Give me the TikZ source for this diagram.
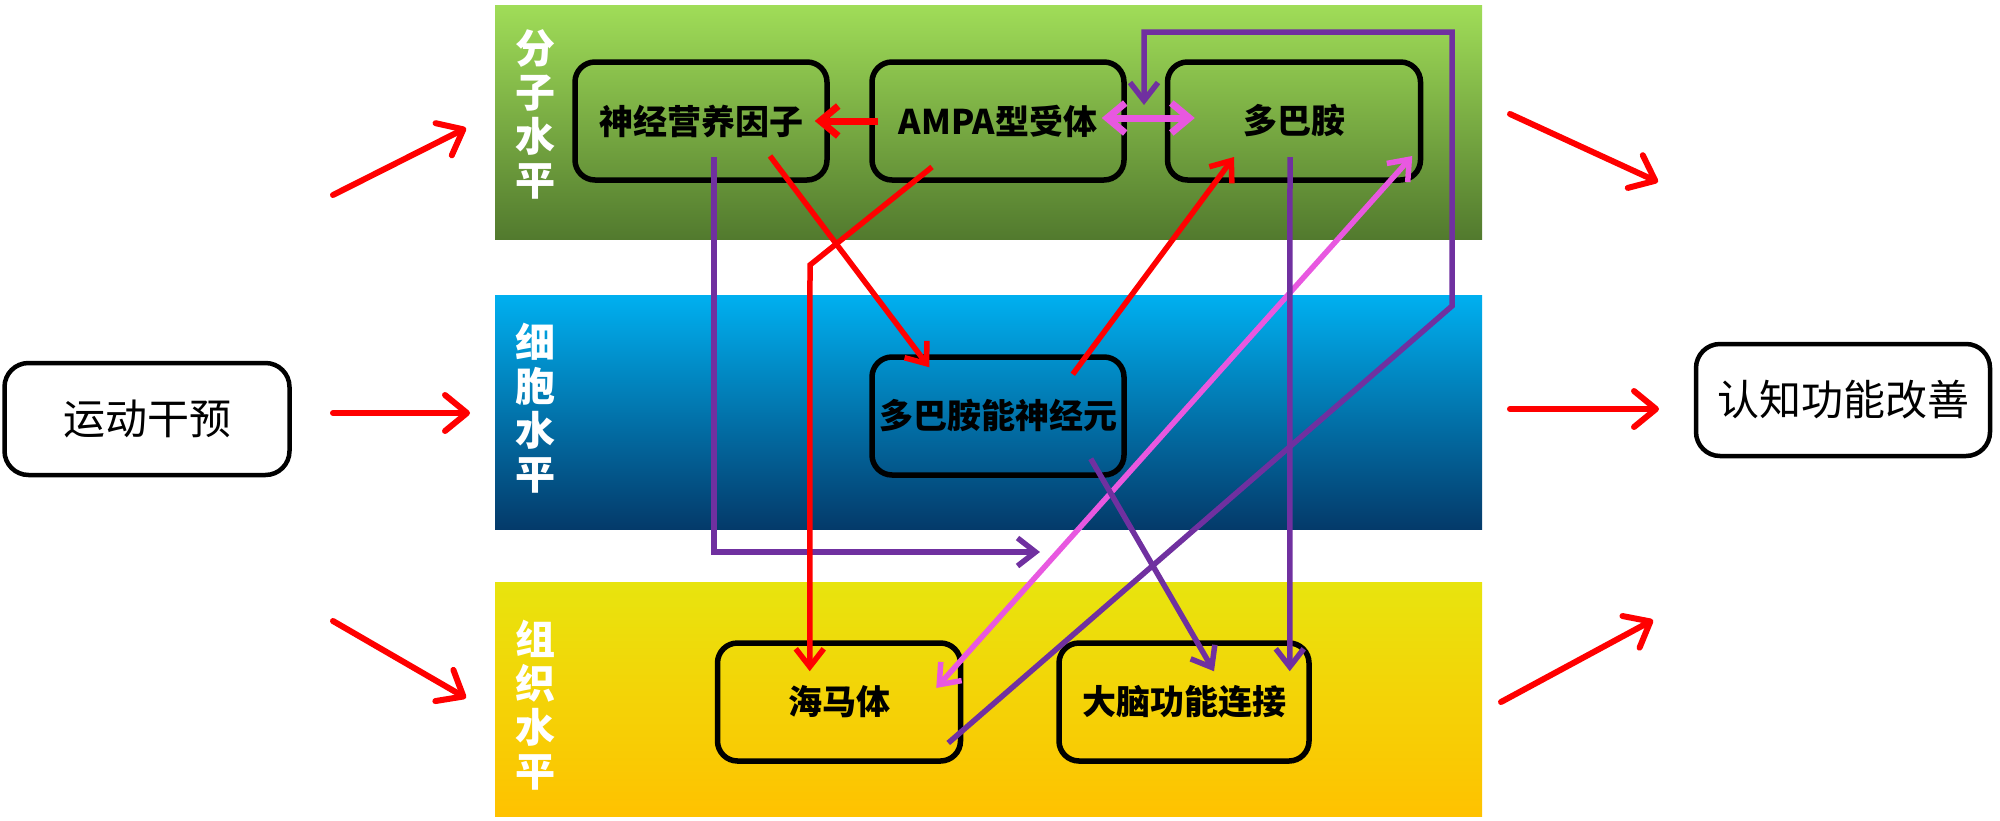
\documentclass[tikz,border=0pt]{standalone}
\usepackage{fontspec}
\newfontfamily\cjk{Noto Sans CJK SC}
\usetikzlibrary{arrows.meta,calc}
\definecolor{myred}{RGB}{255,0,0}
\definecolor{mypurple}{RGB}{112,48,160}
\definecolor{mypink}{RGB}{232,88,224}
\definecolor{gtop}{RGB}{160,221,88}
\definecolor{gbot}{RGB}{82,122,46}
\definecolor{btop}{RGB}{0,176,240}
\definecolor{bbot}{RGB}{4,58,106}
\definecolor{ytop}{RGB}{232,228,14}
\definecolor{ybot}{RGB}{255,194,0}
\begin{document}
\begin{tikzpicture}[x=1pt,y=-1pt,
  inbox/.style={draw=black, line width=5.5pt, rounded corners=20pt, minimum height=118pt,
    inner sep=0pt, font=\cjk\bfseries\fontsize{34}{36}\selectfont},
  outbox/.style={draw=black, fill=white, line width=4.5pt, rounded corners=24pt, minimum height=112pt,
    inner sep=0pt, font=\cjk\fontsize{42}{44}\selectfont},
  lvl/.style={text=white, align=center, inner sep=0pt, font=\cjk\bfseries\fontsize{40}{44}\selectfont},
  bigred/.style={draw=myred, line width=6pt, line cap=round, -{Straight Barb[length=22pt,width=36pt,round]}},
  redln/.style={draw=myred, line width=5.5pt, -{Straight Barb[length=18pt,width=28pt]}},
  purln/.style={draw=mypurple, line width=5.5pt, -{Straight Barb[length=18pt,width=28pt]}},
  pinkln/.style={draw=mypink, line width=5.5pt, {Straight Barb[length=18pt,width=28pt]}-{Straight Barb[length=18pt,width=28pt]}}
]
\useasboundingbox (0,0) rectangle (2000,820);
% bands
\shade[top color=gtop, bottom color=gbot] (495,5) rectangle (1482,239);
\shade[top color=btop, bottom color=bbot] (495,295) rectangle (1482,529);
\shade[top color=ytop, bottom color=ybot] (495,582) rectangle (1482,816);
\node[lvl] (l1) at (535,114) {分\\子\\水\\平};
\node[lvl] (l2) at (535,408) {细\\胞\\水\\平};
\node[lvl] (l3) at (535,705) {组\\织\\水\\平};
% nodes
\node[inbox, minimum width=252pt] (ntf) at (701,121) {神经营养因子};
\node[inbox, minimum width=252pt] (ampa) at (998,121) {AMPA型受体};
\node[inbox, minimum width=253pt] (dop) at (1294,121) {多巴胺};
\node[inbox, minimum width=252pt] (dn) at (998,416) {多巴胺能神经元};
\node[inbox, minimum width=243pt] (hip) at (839,702) {海马体};
\node[inbox, minimum width=250pt] (brain) at (1184,702) {大脑功能连接};
\node[outbox, minimum width=285pt] (ex) at (147,419) {运动干预};
\node[outbox, minimum width=294pt] (cog) at (1843,400) {认知功能改善};
% free ends
\coordinate (a1s) at (333,195); \coordinate (a1e) at (466,128);
\coordinate (a2s) at (333,413); \coordinate (a2e) at (470,413);
\coordinate (a3s) at (333,621); \coordinate (a3e) at (466,698);
\coordinate (b1s) at (1510,114); \coordinate (b1e) at (1658,182);
\coordinate (b2s) at (1510,409); \coordinate (b2e) at (1659,409);
\coordinate (b3s) at (1501,702); \coordinate (b3e) at (1653,620);
\coordinate (pend) at (1040,552);
\coordinate (lend) at (1144,105);
% outer arrows
\draw[bigred] (a1s) -- (a1e);
\draw[bigred] (a2s) -- (a2e);
\draw[bigred] (a3s) -- (a3e);
\draw[bigred] (b1s) -- (b1e);
\draw[bigred] (b2s) -- (b2e);
\draw[bigred] (b3s) -- (b3e);
% inner connectors
\draw[draw=myred, line width=7pt, -{Straight Barb[length=18pt,width=30pt]}] ($(ampa.west)+(9,0)$) -- ($(ntf.east)+(-15,0)$);
\draw[draw=mypink, line width=7pt, {Straight Barb[length=18pt,width=30pt]}-{Straight Barb[length=18pt,width=30pt]}] ($(ampa.east)+(-25,-3)$) -- ($(dop.west)+(30,-3)$);
\draw[purln] ($(hip.east)+(-15,41)$) -- (1452,306) -- (1452,32) -- (1144,32) -- (lend);
\draw[purln] ($(ntf.center)+(13,36)$) -- (714,552) -- (pend);
\draw[redln] ($(ntf.center)+(69,35)$) -- ($(dn.north west)+(60,13)$);
\draw[redln] ($(ampa.center)+(-66,46)$) -- (810,265) -- ($(hip.north west)+(95,31)$);
\draw[redln] ($(dn.north east)+(-54,20)$) -- ($(dop.center)+(-60,36)$);
\draw[pinkln] ($(hip.east)+(-27,-14)$) -- ($(dop.east)+(-11,35)$);
\draw[purln] ($(dn.south east)+(-36,-19)$) -- ($(brain.north)+(30,31)$);
\draw[purln] ($(dop.center)+(-4,36)$) -- ($(brain.north east)+(-22,31)$);
\end{tikzpicture}
\end{document}
